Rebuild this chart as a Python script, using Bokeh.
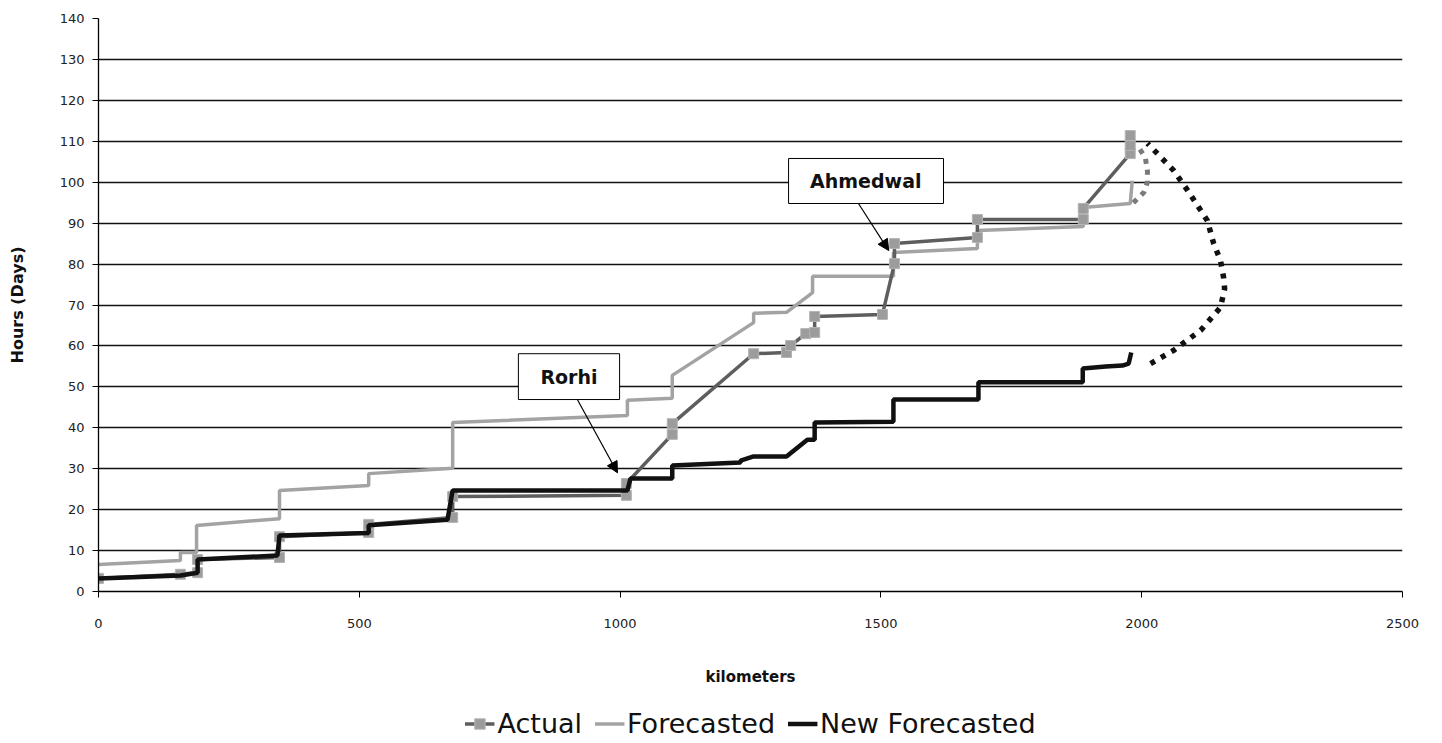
from bokeh.plotting import figure
from bokeh.layouts import column
from bokeh.models import Range1d, Legend, LegendItem, Arrow, NormalHead, FixedTicker
from bokeh.core.properties import value
from bokeh.embed import file_html
from bokeh.resources import INLINE

# ---- data ----
actual_km = [0, 157, 190, 190, 347, 347, 518, 518, 679, 679, 1012, 1012, 1100, 1100,
             1256, 1319, 1327, 1356, 1373, 1373, 1503, 1526, 1526, 1685, 1685, 1888, 1888,
             1978, 1978, 1978]
actual_hours = [3.2, 4.2, 4.6, 7.8, 8.3, 13.4, 14.4, 16.4, 18.1, 23.2, 23.5, 26.4, 38.4, 41.0,
                58.1, 58.4, 60.1, 63.0, 63.3, 67.2, 67.7, 80.1, 85.0, 86.5, 90.9, 90.9, 93.6,
                107.0, 109.0, 111.4]

fc_km = [0, 157, 157, 188, 188, 347, 347, 518, 518, 679, 679, 1014, 1014, 1100, 1100,
         1256, 1256, 1319, 1369, 1369, 1524, 1524, 1685, 1685, 1888, 1888, 1978, 1982]
fc_hours = [6.6, 7.6, 9.5, 9.5, 16.1, 17.8, 24.7, 25.9, 28.8, 30.1, 41.3, 43.0, 46.7, 47.2, 52.8,
            65.7, 68.0, 68.2, 73.0, 77.0, 77.0, 82.8, 83.8, 88.2, 89.2, 93.8, 94.8, 100.4]

nf_km = [0, 157, 190, 190, 343, 347, 518, 518, 669, 679, 1014, 1020, 1100, 1100, 1231, 1231,
         1256, 1319, 1359, 1373, 1373, 1524, 1524, 1687, 1687, 1887, 1887, 1931, 1963, 1975, 1980]
nf_hours = [3.2, 3.9, 4.6, 7.8, 8.8, 13.7, 14.3, 16.2, 17.5, 24.7, 24.7, 27.6, 27.6, 30.8, 31.5,
            32.0, 33.0, 33.0, 37.1, 37.1, 41.3, 41.5, 46.9, 46.9, 51.1, 51.1, 54.5, 55.0, 55.2,
            55.7, 58.4]

loop_km = [2017, 2061, 2113, 2151, 2159, 2157, 2151, 2138, 2126, 2088, 2061, 2011]
loop_hours = [55.7, 58.9, 63.8, 69.4, 74.0, 76.7, 80.9, 85.0, 90.6, 98.0, 102.9, 109.5]

small_loop_km = [1984, 2004, 2011, 2011, 2007, 1994]
small_loop_hours = [95.0, 97.5, 100.0, 102.7, 106.0, 108.5]

x_ticks = [0, 500, 1000, 1500, 2000, 2500]
y_ticks = list(range(0, 141, 10))

series_names = ["Actual", "Forecasted", "New Forecasted"]

labels = ["Rorhi", "Ahmedwal"]
label_km = [902, 1471]
label_hours = [52.5, 100.3]
box_left = [805, 1323]
box_right = [999, 1620]
box_top = [58.1, 105.8]
box_bottom = [46.9, 94.8]
arrow_start_km = [918, 1457]
arrow_start_hours = [46.9, 94.8]
arrow_end_km = [995, 1515]
arrow_end_hours = [29.0, 83.3]

FONT = "DejaVu Sans"
C_ACT = "#5e5e5e"
C_FC = "#a3a3a3"
C_NF = "#111111"
C_MARK_FILL = "#9c9c9c"
C_MARK_LINE = "#b4b4b4"

p = figure(width=1442, height=703, output_backend="svg", toolbar_location=None,
           x_range=Range1d(0, 2500), y_range=Range1d(0, 140),
           min_border_left=98, min_border_right=40, min_border_top=18, min_border_bottom=112)
p.outline_line_color = None
p.background_fill_color = "white"
p.xgrid.grid_line_color = None
p.ygrid.grid_line_color = "#111111"
p.ygrid.grid_line_width = 1.3
p.ygrid.ticker = FixedTicker(ticks=y_ticks)

for ax in (p.xaxis[0], p.yaxis[0]):
    ax.axis_line_color = "black"
    ax.axis_line_width = 1.3
    ax.major_tick_line_color = "black"
    ax.major_tick_out = 6
    ax.major_tick_in = 0
    ax.minor_tick_line_color = None
    ax.major_label_text_font = FONT
    ax.major_label_text_font_size = "13px"
    ax.major_label_text_color = "#222222"
    ax.axis_label_text_font = FONT
    ax.axis_label_text_font_style = "bold"
    ax.axis_label_text_color = "#111111"

p.xaxis.ticker = FixedTicker(ticks=x_ticks)
p.yaxis.ticker = FixedTicker(ticks=y_ticks)
p.xaxis.axis_label = "kilometers"
p.xaxis.axis_label_text_font_size = "15px"
p.xaxis.major_label_standoff = 21
p.xaxis.axis_label_standoff = 37
p.yaxis.axis_label = "Hours (Days)"
p.yaxis.axis_label_text_font_size = "16px"
p.yaxis.major_label_standoff = 8
p.yaxis.axis_label_standoff = 30

# series
p.line(fc_km, fc_hours, line_color=C_FC, line_width=3.5)
p.line(actual_km, actual_hours, line_color=C_ACT, line_width=3.5)
p.scatter(actual_km, actual_hours, marker="square", size=10,
          fill_color=C_MARK_FILL, line_color=C_MARK_LINE, line_width=1)
p.line(nf_km, nf_hours, line_color=C_NF, line_width=4.5)

p.line(small_loop_km, small_loop_hours, line_color="#7a7a7a", line_width=5,
       line_dash="5 6", line_cap="butt")
p.line(loop_km, loop_hours, line_color="#111111", line_width=5.5,
       line_dash="5 7", line_cap="butt")

# callouts
p.quad(left=box_left, right=box_right, top=box_top, bottom=box_bottom,
       fill_color="white", line_color="black", line_width=1)
p.text(label_km, label_hours, text=labels, text_font=value(FONT), text_font_style="bold",
       text_font_size="19px", text_align="center", text_baseline="middle", text_color="#111111")
for i in range(len(labels)):
    p.add_layout(Arrow(end=NormalHead(size=11, fill_color="black", line_color="black"),
                       x_start=arrow_start_km[i], y_start=arrow_start_hours[i],
                       x_end=arrow_end_km[i], y_end=arrow_end_hours[i],
                       line_color="black", line_width=1.2))

# legend strip below the chart (series re-drawn out of view, used only as legend keys)
lg = figure(width=1442, height=40, output_backend="svg", toolbar_location=None,
            x_range=Range1d(0, 1), y_range=Range1d(-1, 0),
            x_axis_type=None, y_axis_type=None,
            min_border_left=0, min_border_right=0, min_border_top=0, min_border_bottom=0)
lg.outline_line_color = None
lg.xgrid.visible = False
lg.ygrid.visible = False
la = lg.line(actual_km, actual_hours, line_color=C_ACT, line_width=3.5)
lm = lg.scatter(actual_km, actual_hours, marker="square", size=10, fill_color=C_MARK_FILL,
                line_color=C_MARK_LINE, line_width=1)
lf = lg.line(fc_km, fc_hours, line_color=C_FC, line_width=3.5)
ln = lg.line(nf_km, nf_hours, line_color=C_NF, line_width=4.5)

legend = Legend(items=[LegendItem(label=series_names[0], renderers=[la, lm]),
                       LegendItem(label=series_names[1], renderers=[lf]),
                       LegendItem(label=series_names[2], renderers=[ln])],
                orientation="horizontal", location="center")
legend.border_line_color = None
legend.background_fill_alpha = 0
legend.label_text_font = FONT
legend.label_text_font_size = "27px"
legend.label_text_color = "#111111"
legend.glyph_width = 30
legend.glyph_height = 26
legend.label_standoff = 3
legend.spacing = 12
legend.padding = 2
legend.margin = 0
lg.add_layout(legend, "center")

layout = column(p, lg, spacing=0)
open("out.html", "w").write(file_html(layout, INLINE))
